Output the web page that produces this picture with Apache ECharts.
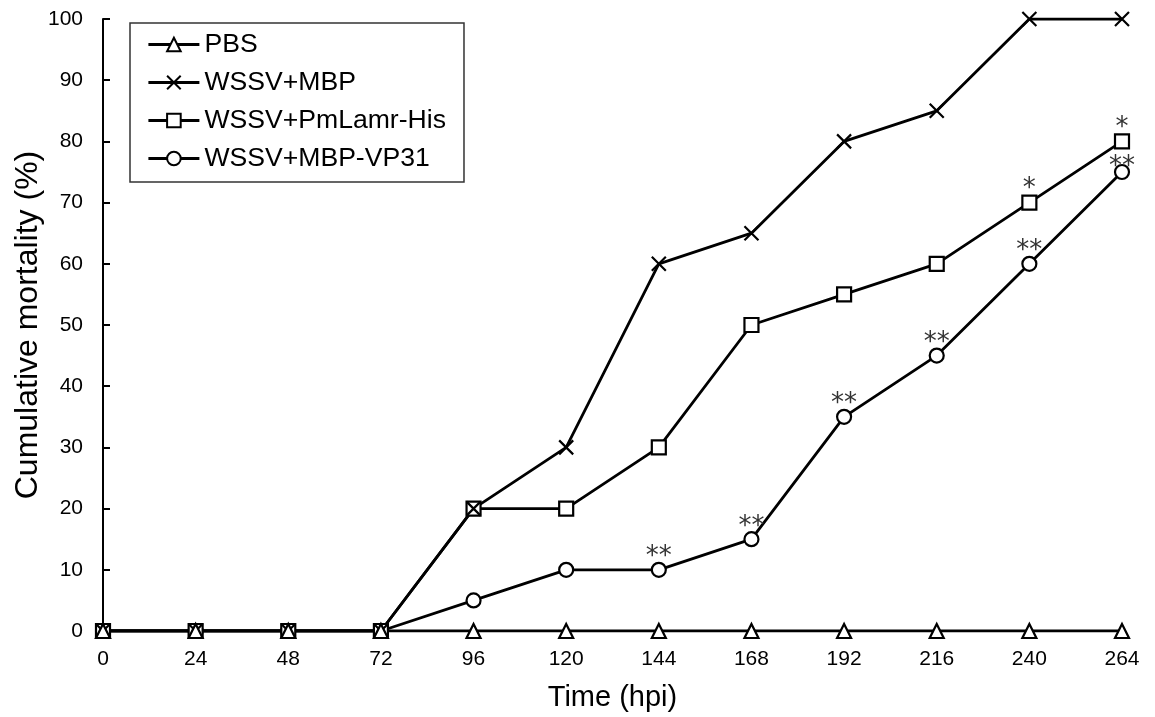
<!DOCTYPE html>
<html>
<head>
<meta charset="utf-8">
<script src="https://cdn.jsdelivr.net/npm/echarts@6/dist/echarts.min.js"></script>
<style>
  html, body { margin: 0; padding: 0; background: #fff; }
  #chart { width: 1155px; height: 717px; }
</style>
</head>
<body>
<div id="chart"></div>
<script>
// Data
const hours = [0, 24, 48, 72, 96, 120, 144, 168, 192, 216, 240, 264];
const pbs = [0, 0, 0, 0, 0, 0, 0, 0, 0, 0, 0, 0];
const wssvMbp = [0, 0, 0, 0, 20, 30, 60, 65, 80, 85, 100, 100];
const wssvLamr = [0, 0, 0, 0, 20, 20, 30, 50, 55, 60, 70, 80];
const wssvVp31 = [0, 0, 0, 0, 5, 10, 10, 15, 35, 45, 60, 75];
const lamrStars = ['', '', '', '', '', '', '', '', '', '', '*', '*'];
const vp31Stars = ['', '', '', '', '', '', '**', '**', '**', '**', '**', '**'];

const crossPath = 'path://M0,0L10,10M10,0L0,10';

function points(values, stars) {
    return values.map((v, i) => {
        const item = { value: [hours[i], v] };
        if (stars && stars[i]) {
            item.label = { show: true, formatter: stars[i] };
        }
        return item;
    });
}

function makeSeries(name, values, symbol, size, stars, starDistance) {
    return {
        name: name,
        type: 'line',
        data: points(values, stars),
        symbol: symbol,
        symbolSize: size,
        showAllSymbol: true,
        clip: true,
        lineStyle: { color: '#000', width: 2.8 },
        itemStyle: { color: '#fff', borderColor: '#000', borderWidth: 2.2 },
        label: {
            show: false,
            position: 'top',
            distance: starDistance || 0,
            fontFamily: 'DejaVu Sans',
            fontSize: 26,
            color: '#333'
        },
        emphasis: { disabled: true },
        animation: false
    };
}

const chart = echarts.init(document.getElementById('chart'));

const vp31 = makeSeries('WSSV+MBP-VP31', wssvVp31, 'circle', 14, vp31Stars, -9);
// last "**" sits closer to its marker in the figure
vp31.data[11].label.distance = -16;

chart.setOption({
    backgroundColor: '#fff',
    textStyle: { fontFamily: 'Liberation Sans', color: '#000' },
    grid: { left: 103, right: 33, top: 19, bottom: 86, outerBoundsMode: 'none' },
    legend: {
        orient: 'vertical',
        left: 130,
        top: 23,
        padding: [8, 18, 10, 17],
        itemWidth: 51,
        itemHeight: 17,
        itemGap: 11,
        borderColor: '#333',
        borderWidth: 1.5,
        backgroundColor: '#fff',
        lineStyle: { width: 2.8, color: '#000' },
        textStyle: { fontFamily: 'Liberation Sans', fontSize: 26.6, color: '#000' },
        data: ['PBS', 'WSSV+MBP', 'WSSV+PmLamr-His', 'WSSV+MBP-VP31']
    },
    xAxis: {
        type: 'value',
        min: 0,
        max: 264,
        interval: 24,
        name: 'Time (hpi)',
        nameLocation: 'middle',
        nameGap: 52,
        nameMoveOverlap: false,
        nameTextStyle: { fontFamily: 'Liberation Sans', fontSize: 29, color: '#000' },
        axisLine: { lineStyle: { color: '#000', width: 2 } },
        axisTick: { show: false },
        axisLabel: { fontFamily: 'Liberation Sans', fontSize: 21, color: '#000', margin: 18 },
        splitLine: { show: false }
    },
    yAxis: {
        type: 'value',
        min: 0,
        max: 100,
        interval: 10,
        name: 'Cumulative mortality (%)',
        nameLocation: 'middle',
        nameGap: 59,
        nameMoveOverlap: false,
        nameTextStyle: { fontFamily: 'Liberation Sans', fontSize: 32, color: '#000' },
        axisLine: { show: true, lineStyle: { color: '#000', width: 2 } },
        axisTick: { show: true, inside: true, length: 7, lineStyle: { color: '#000', width: 2 } },
        axisLabel: { fontFamily: 'Liberation Sans', fontSize: 21, color: '#000', margin: 20 },
        splitLine: { show: false }
    },
    series: [
        vp31,
        makeSeries('WSSV+PmLamr-His', wssvLamr, 'rect', 14, lamrStars, -8),
        makeSeries('WSSV+MBP', wssvMbp, crossPath, 14),
        makeSeries('PBS', pbs, 'triangle', 14)
    ]
});

window.addEventListener('resize', () => chart.resize());
</script>
</body>
</html>
